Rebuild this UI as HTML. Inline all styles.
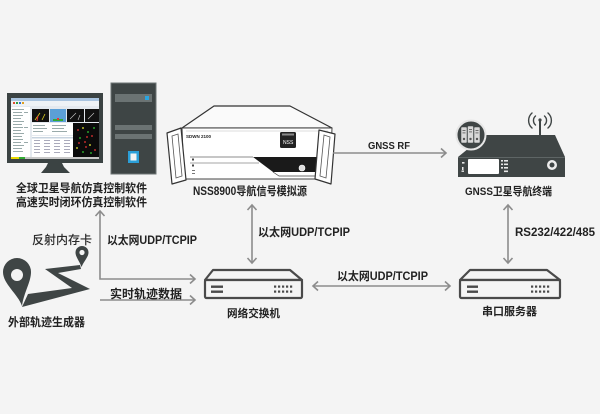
<!DOCTYPE html>
<html><head><meta charset="utf-8">
<style>
html,body{margin:0;padding:0;background:#f4f4f4;}
svg{display:block;}
text{font-family:"Liberation Sans","Noto Sans CJK SC",sans-serif;font-weight:bold;fill:#222;}
</style></head><body>
<svg width="600" height="414" viewBox="0 0 600 414" xmlns="http://www.w3.org/2000/svg">
<rect width="600" height="414" fill="#f4f4f4"/>

<!-- ===== Monitor ===== -->
<rect x="7" y="93" width="96" height="70" fill="#3b4343"/>
<rect x="11" y="98" width="88" height="61" fill="#e4e9ef"/>
<rect x="11" y="98" width="88" height="3" fill="#a9c4e0"/>
<rect x="11" y="101" width="88" height="5" fill="#eef2f6"/>
<rect x="13" y="102" width="2" height="2" fill="#e05030"/>
<rect x="16" y="102" width="2" height="2" fill="#30a040"/>
<rect x="19" y="102" width="2" height="2" fill="#3070d0"/>
<rect x="22" y="102" width="2" height="2" fill="#e0a020"/>
<rect x="11" y="107" width="19" height="50" fill="#ffffff"/>
<g fill="#9aa">
<rect x="12" y="109" width="12" height="1"/><rect x="13" y="112" width="9" height="1"/><rect x="13" y="115" width="10" height="1"/>
<rect x="13" y="118" width="8" height="1"/><rect x="13" y="121" width="11" height="1"/><rect x="13" y="124" width="9" height="1"/>
<rect x="13" y="127" width="10" height="1"/><rect x="13" y="130" width="8" height="1"/><rect x="13" y="133" width="11" height="1"/>
<rect x="13" y="136" width="9" height="1"/><rect x="13" y="139" width="10" height="1"/><rect x="13" y="142" width="8" height="1"/>
<rect x="13" y="145" width="11" height="1"/><rect x="13" y="148" width="9" height="1"/><rect x="13" y="151" width="10" height="1"/>
<rect x="24" y="112" width="4" height="1"/><rect x="24" y="127" width="4" height="1"/><rect x="24" y="142" width="4" height="1"/>
</g>
<rect x="32" y="109" width="17" height="13" fill="#111"/>
<rect x="50" y="109" width="16" height="13" fill="#5c9fd6"/>
<rect x="67" y="109" width="17" height="13" fill="#111"/>
<rect x="85" y="109" width="14" height="13" fill="#111"/>
<path d="M35 120 L40 113 M42 120 L45 114" stroke="#e0d020" stroke-width="0.8"/>
<path d="M37 121 L38 116" stroke="#e03030" stroke-width="1"/>
<rect x="53" y="119" width="10" height="2" fill="#3a3"/>
<rect x="57" y="118" width="2" height="2" fill="#e33"/>
<path d="M70 119 L76 113 M78 120 L80 115 M88 119 L94 113" stroke="#ccc" stroke-width="0.6"/>
<rect x="32" y="123" width="41" height="12" fill="#fff"/>
<g fill="#9aa">
<rect x="33" y="125" width="12" height="1"/><rect x="33" y="128" width="14" height="1"/><rect x="33" y="131" width="10" height="1"/>
<rect x="52" y="125" width="14" height="1"/><rect x="52" y="128" width="12" height="1"/><rect x="52" y="131" width="15" height="1"/>
</g>
<rect x="73" y="123" width="26" height="34" fill="#0b0b0b"/>
<g>
<circle cx="78" cy="130" r="0.9" fill="#e33"/><circle cx="83" cy="128" r="0.9" fill="#ee3"/><circle cx="88" cy="132" r="0.9" fill="#3c3"/>
<circle cx="92" cy="136" r="0.9" fill="#e33"/><circle cx="80" cy="138" r="0.9" fill="#3c3"/><circle cx="85" cy="142" r="0.9" fill="#e33"/>
<circle cx="90" cy="145" r="0.9" fill="#ee3"/><circle cx="95" cy="150" r="0.9" fill="#e33"/><circle cx="77" cy="148" r="0.9" fill="#ee3"/>
<circle cx="83" cy="152" r="0.9" fill="#3c3"/><circle cx="94" cy="128" r="0.9" fill="#3c3"/><circle cx="87" cy="137" r="0.9" fill="#e33"/>
<circle cx="79" cy="143" r="0.9" fill="#e33"/><circle cx="91" cy="153" r="0.9" fill="#3c3"/><circle cx="86" cy="147" r="0.9" fill="#e33"/>
</g>
<rect x="32" y="136" width="41" height="21" fill="#fff"/>
<g fill="#aab">
<rect x="32" y="137" width="41" height="1.5" fill="#c8d4e0"/>
<rect x="34" y="140" width="6" height="1"/><rect x="44" y="140" width="6" height="1"/><rect x="54" y="140" width="6" height="1"/><rect x="64" y="140" width="6" height="1"/>
<rect x="34" y="143" width="6" height="1"/><rect x="44" y="143" width="6" height="1"/><rect x="54" y="143" width="6" height="1"/><rect x="64" y="143" width="6" height="1"/>
<rect x="34" y="146" width="6" height="1"/><rect x="44" y="146" width="6" height="1"/><rect x="54" y="146" width="6" height="1"/><rect x="64" y="146" width="6" height="1"/>
<rect x="34" y="149" width="6" height="1"/><rect x="44" y="149" width="6" height="1"/><rect x="54" y="149" width="6" height="1"/><rect x="64" y="149" width="6" height="1"/>
<rect x="34" y="152" width="6" height="1"/><rect x="44" y="152" width="6" height="1"/><rect x="54" y="152" width="6" height="1"/><rect x="64" y="152" width="6" height="1"/>
</g>
<rect x="11" y="157" width="88" height="2" fill="#c8c8c8"/>
<rect x="11" y="157" width="8" height="2" fill="#e8d800"/>
<rect x="19" y="157" width="6" height="2" fill="#3a3"/>
<polygon points="48,163 62,163 64,167 70,173 41,173 46,167" fill="#3b4343"/>

<!-- ===== Tower ===== -->
<rect x="111" y="83" width="45" height="91" fill="#3e4545" stroke="#6d7575" stroke-width="1"/>
<rect x="115" y="94" width="37" height="8" fill="#6b7373"/>
<rect x="145" y="96" width="4" height="4" fill="#2aa5e0"/>
<rect x="115" y="125" width="37" height="5" fill="#6b7373"/>
<rect x="115" y="134" width="37" height="5" fill="#6b7373"/>
<rect x="128" y="151" width="11" height="12" fill="#2b9fd8"/>
<rect x="130.5" y="153.5" width="6" height="7" fill="#f4f4f4"/>

<!-- ===== NSS8900 device ===== -->
<polygon points="214,106 290,106 332,128 182,128" fill="#fafafa" stroke="#333" stroke-width="1.2" stroke-linejoin="round"/>
<polygon points="182,128 332,128 330,179 184,179" fill="#ffffff" stroke="#444" stroke-width="1"/>
<line x1="186" y1="131" x2="328" y2="131" stroke="#bbb" stroke-width="0.6"/>
<text x="186" y="138" font-size="4.5" fill="#222">SDWN 2100</text>
<rect x="280" y="132" width="16" height="16" rx="1.5" fill="#222"/>
<rect x="282" y="133.5" width="12" height="2" fill="#888"/>
<text x="283" y="144" font-size="5" style="fill:#fff;font-weight:normal">NSS</text>
<line x1="190" y1="157" x2="253" y2="157" stroke="#666" stroke-width="0.7"/>
<line x1="190" y1="163" x2="259" y2="163" stroke="#888" stroke-width="0.7"/>
<rect x="192" y="158.5" width="2" height="2" fill="#444"/>
<rect x="192" y="164.5" width="2" height="2" fill="#444"/>
<rect x="192" y="170" width="3" height="1" fill="#777"/>
<rect x="192" y="173" width="3" height="1" fill="#777"/>
<polygon points="253,157 318,157 318,172 273,172" fill="#1a1a1a"/>
<polyline points="273,172 279,176 318,176" fill="none" stroke="#444" stroke-width="0.7"/>
<circle cx="302" cy="168" r="3" fill="#ddd" stroke="#fff" stroke-width="0.6"/>
<polygon points="167,133 181,128 186,180 172,184" fill="#fff" stroke="#333" stroke-width="1.2" stroke-linejoin="round"/>
<polygon points="172,136 178,134 182,176 176,178" fill="none" stroke="#555" stroke-width="0.8"/>
<polygon points="319,130 335,134 331,184 315,179" fill="#fff" stroke="#333" stroke-width="1.2" stroke-linejoin="round"/>
<polygon points="324,135 330,137 326,178 320,176" fill="none" stroke="#555" stroke-width="0.8"/>

<!-- ===== GNSS terminal ===== -->
<polygon points="485,135 555,135 565,157 458,157" fill="#3f4545"/>
<rect x="458" y="157" width="107" height="20" fill="#3f4545"/>
<line x1="458" y1="157.5" x2="565" y2="157.5" stroke="#6a7070" stroke-width="0.8"/>
<rect x="468" y="159" width="31" height="15" rx="1" fill="#ffffff"/>
<g fill="#e8e8e8">
<rect x="501" y="160" width="2" height="1.6"/><rect x="504" y="160" width="4" height="1.6"/>
<rect x="501" y="163.5" width="2" height="1.6"/><rect x="504" y="163.5" width="4" height="1.6"/>
<rect x="501" y="167" width="2" height="1.6"/><rect x="504" y="167" width="4" height="1.6"/>
<rect x="504" y="170.5" width="4" height="1.6"/>
<rect x="462" y="162" width="2.5" height="1.6"/><rect x="462" y="167" width="1.5" height="3"/><rect x="461.5" y="170.5" width="2.5" height="1.4"/>
</g>
<circle cx="552" cy="165" r="5" fill="#ececec"/>
<circle cx="552" cy="165" r="2.5" fill="#3f4545"/>
<line x1="540" y1="120" x2="540" y2="136" stroke="#3f4545" stroke-width="2"/>
<circle cx="540" cy="120" r="1.6" fill="#3f4545"/>
<g fill="none" stroke="#3f4545" stroke-width="1.4" stroke-linecap="round">
<path d="M535.5 116 A6 6 0 0 0 535.5 125"/>
<path d="M544.5 116 A6 6 0 0 1 544.5 125"/>
<path d="M532 113 A10 10 0 0 0 532 128"/>
<path d="M548 113 A10 10 0 0 1 548 128"/>
</g>
<circle cx="471" cy="135" r="14.5" fill="#3f4545" stroke="#e6e6e6" stroke-width="2"/>
<g fill="#d8d8d8" stroke="#3f4545" stroke-width="0.5">
<rect x="461" y="127" width="6" height="16" rx="1"/>
<rect x="467.5" y="126" width="6" height="17" rx="1"/>
<rect x="474" y="127" width="6" height="16" rx="1"/>
</g>
<g fill="#555">
<rect x="462.5" y="130" width="3" height="0.8"/><rect x="462.5" y="132.5" width="3" height="0.8"/><circle cx="464" cy="139" r="1.2"/>
<rect x="469" y="129" width="3" height="0.8"/><rect x="469" y="131.5" width="3" height="0.8"/><circle cx="470.5" cy="139" r="1.2"/>
<rect x="475.5" y="130" width="3" height="0.8"/><rect x="475.5" y="132.5" width="3" height="0.8"/><circle cx="477" cy="139" r="1.2"/>
</g>

<!-- ===== Switch ===== -->
<g fill="#f4f4f4" stroke="#4a4a4a" stroke-width="2.2" stroke-linejoin="round">
<polygon points="213,270 290,270 302,280 205,280"/>
<rect x="205" y="280" width="97" height="18" rx="1.5"/>
</g>
<g fill="#4a4a4a">
<rect x="211" y="285.5" width="12" height="2.4"/>
<rect x="211" y="290.5" width="12" height="2.4"/>
<rect x="274" y="285.5" width="2.2" height="2.2"/><rect x="278" y="285.5" width="2.2" height="2.2"/><rect x="282" y="285.5" width="2.2" height="2.2"/><rect x="286" y="285.5" width="2.2" height="2.2"/><rect x="290" y="285.5" width="2.2" height="2.2"/>
<rect x="274" y="290.5" width="2.2" height="2.2"/><rect x="278" y="290.5" width="2.2" height="2.2"/><rect x="282" y="290.5" width="2.2" height="2.2"/><rect x="286" y="290.5" width="2.2" height="2.2"/><rect x="290" y="290.5" width="2.2" height="2.2"/>
</g>

<!-- ===== Serial server ===== -->
<g fill="#f4f4f4" stroke="#4a4a4a" stroke-width="2.2" stroke-linejoin="round">
<polygon points="470,270 547,270 560,280 460,280"/>
<rect x="460" y="280" width="100" height="18" rx="1.5"/>
</g>
<g fill="#4a4a4a">
<rect x="467" y="285.5" width="11" height="2.4"/>
<rect x="467" y="290.5" width="11" height="2.4"/>
<rect x="531" y="285.5" width="2.2" height="2.2"/><rect x="535" y="285.5" width="2.2" height="2.2"/><rect x="539" y="285.5" width="2.2" height="2.2"/><rect x="543" y="285.5" width="2.2" height="2.2"/><rect x="547" y="285.5" width="2.2" height="2.2"/>
<rect x="531" y="290.5" width="2.2" height="2.2"/><rect x="535" y="290.5" width="2.2" height="2.2"/><rect x="539" y="290.5" width="2.2" height="2.2"/><rect x="543" y="290.5" width="2.2" height="2.2"/><rect x="547" y="290.5" width="2.2" height="2.2"/>
</g>

<!-- ===== Map pins ===== -->
<polygon points="45,269 80,265 81,269 58,273 90,289 22,307 28,294 72,288" fill="#3f4545"/>
<path d="M17 258 A14 14 0 0 1 31 272 C31 282 24 292 22 306 C18 294 3 284 3 272 A14 14 0 0 1 17 258 Z" fill="#3f4545"/>
<circle cx="17" cy="275" r="6" fill="#f4f4f4"/>
<path d="M82 246 A6.5 6.5 0 0 1 88.5 252.5 C88.5 257 84 261 81.5 267 C79.5 261 75.5 257 75.5 252.5 A6.5 6.5 0 0 1 82 246 Z" fill="#3f4545"/>
<circle cx="82" cy="252.5" r="2.6" fill="#f4f4f4"/>

<!-- ===== Connectors ===== -->
<g fill="none" stroke="#8c8c8c" stroke-width="1.6" stroke-linejoin="miter">
<polyline points="100,211 100,279 195,279"/>
<polyline points="95.5,216 100,211 104.5,216"/>
<polyline points="190,274.5 195,279 190,283.5"/>
<line x1="100" y1="300" x2="195" y2="300"/>
<polyline points="190,295.5 195,300 190,304.5"/>
<line x1="252" y1="205" x2="252" y2="263"/>
<polyline points="247.5,210 252,205 256.5,210"/>
<polyline points="247.5,258 252,263 256.5,258"/>
<line x1="333" y1="153" x2="446" y2="153"/>
<polyline points="441,148.5 446,153 441,157.5"/>
<line x1="313" y1="286" x2="450" y2="286"/>
<polyline points="318,281.5 313,286 318,290.5"/>
<polyline points="445,281.5 450,286 445,290.5"/>
<line x1="508" y1="205" x2="508" y2="263"/>
<polyline points="503.5,210 508,205 512.5,210"/>
<polyline points="503.5,258 508,263 512.5,258"/>
</g>

<!-- ===== Labels ===== -->
<text x="16" y="192" font-size="11.5" textLength="131" lengthAdjust="spacingAndGlyphs">全球卫星导航仿真控制软件</text>
<text x="16" y="206" font-size="11.5" textLength="131" lengthAdjust="spacingAndGlyphs">高速实时闭环仿真控制软件</text>
<text x="193" y="195" font-size="11.5" textLength="114" lengthAdjust="spacingAndGlyphs">NSS8900导航信号模拟源</text>
<text x="465" y="195" font-size="11" textLength="87" lengthAdjust="spacingAndGlyphs">GNSS卫星导航终端</text>
<text x="368" y="149" font-size="10.5" textLength="42" lengthAdjust="spacingAndGlyphs">GNSS  RF</text>
<text x="32" y="244" font-size="12" textLength="60" lengthAdjust="spacingAndGlyphs" style="font-weight:500;fill:#2a2a2a">反射内存卡</text>
<text x="107" y="244" font-size="11.5" textLength="90" lengthAdjust="spacingAndGlyphs">以太网UDP/TCPIP</text>
<text x="258" y="236" font-size="11.5" textLength="92" lengthAdjust="spacingAndGlyphs">以太网UDP/TCPIP</text>
<text x="515" y="236" font-size="11.5" textLength="80" lengthAdjust="spacingAndGlyphs">RS232/422/485</text>
<text x="337" y="280" font-size="11.5" textLength="91" lengthAdjust="spacingAndGlyphs">以太网UDP/TCPIP</text>
<text x="110" y="298" font-size="12" textLength="72" lengthAdjust="spacingAndGlyphs">实时轨迹数据</text>
<text x="8" y="326" font-size="11.5" textLength="77" lengthAdjust="spacingAndGlyphs">外部轨迹生成器</text>
<text x="227" y="317" font-size="11" textLength="53" lengthAdjust="spacingAndGlyphs">网络交换机</text>
<text x="482" y="315" font-size="11" textLength="55" lengthAdjust="spacingAndGlyphs">串口服务器</text>
</svg>
</body></html>
